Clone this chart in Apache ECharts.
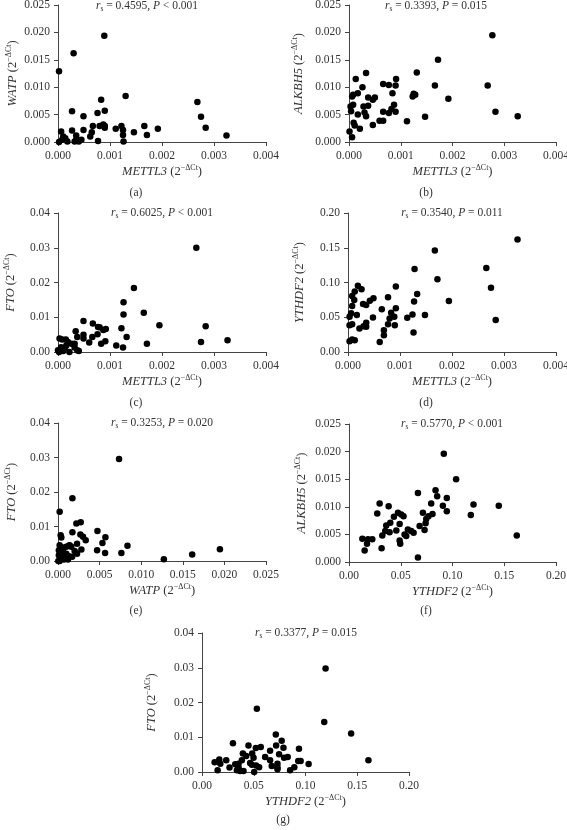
<!DOCTYPE html>
<html><head><meta charset="utf-8">
<script src="https://cdn.jsdelivr.net/npm/echarts@6/dist/echarts.min.js"></script>
<style>html,body{margin:0;padding:0;background:#fff}#c{width:567px;height:830px}</style>
</head><body><div id="c"></div>
<script>
// ---- data: [x, y] pairs ----
const a_METTL3_WATP = [[0.00002,0.0129],[0.0003,0.0162],[0.00089,0.0194],[0.00027,0.0056],[0.00049,0.0047],[0.00027,0.0021],[0.00006,0.0019],[0.0001,0.001],[0.00014,0.0007],[0.00018,0.0001],[0.00002,0],[0.00035,0.0012],[0.00035,0.0004],[0.0004,0.0001],[0.00045,0.0004],[0.00049,0.0022],[0.00062,0.001],[0.00065,0.0018],[0.00067,0.0029],[0.00076,0.0053],[0.00077,0.0002],[0.0008,0.0029],[0.00083,0.0077],[0.00087,0.0032],[0.0009,0.0029],[0.0009,0.0057],[0.0009,0.0026],[0.00111,0.0024],[0.00122,0.0029],[0.00125,0.0022],[0.00125,0.0013],[0.00126,0.0001],[0.0013,0.0084],[0.00146,0.0018],[0.00166,0.0029],[0.00171,0.0013],[0.00192,0.0024],[0.00268,0.0073],[0.00275,0.0046],[0.00284,0.0026],[0.00324,0.0012],[0.00032,0.0001],[0.00008,0.0004]];
const b_METTL3_ALKBH5 = [[0.00001,0.0019],[0.00006,0.00085],[0.00003,0.0065],[0.00006,0.0083],[0.00008,0.0086],[0.00004,0.0056],[0.00008,0.0068],[0.00013,0.0115],[0.00009,0.0035],[0.00011,0.003],[0.00017,0.0089],[0.00017,0.005],[0.00021,0.0024],[0.00026,0.01],[0.00028,0.0065],[0.0003,0.0054],[0.00033,0.0126],[0.00033,0.0047],[0.00037,0.0081],[0.00037,0.0066],[0.00046,0.0077],[0.0005,0.0081],[0.00046,0.0031],[0.00059,0.0039],[0.00066,0.0106],[0.00066,0.0055],[0.00066,0.0039],[0.00077,0.0104],[0.00077,0.0053],[0.00082,0.006],[0.00084,0.0089],[0.00087,0.0068],[0.0009,0.0103],[0.00091,0.0115],[0.0009,0.0055],[0.00112,0.0038],[0.00123,0.0083],[0.00125,0.0088],[0.00128,0.0086],[0.00131,0.0127],[0.00147,0.0046],[0.00166,0.0103],[0.00172,0.015],[0.00192,0.0079],[0.00268,0.0103],[0.00277,0.0195],[0.00283,0.0055],[0.00326,0.0047]];
const c_METTL3_FTO = [[0.00266,0.030],[0.00146,0.0184],[0.00126,0.0143],[0.00126,0.0108],[0.00165,0.0113],[0.00195,0.0077],[0.00284,0.0074],[0.00326,0.0034],[0.00275,0.0029],[0.00171,0.0024],[0.00122,0.0068],[0.00132,0.0043],[0.00112,0.0019],[0.00125,0.0013],[0.00049,0.0089],[0.00067,0.0082],[0.00077,0.0072],[0.0008,0.0071],[0.00087,0.0063],[0.00092,0.0066],[0.00034,0.006],[0.00037,0.0043],[0.00049,0.005],[0.00049,0.0039],[0.0006,0.0027],[0.00066,0.0043],[0.00076,0.0051],[0.00083,0.0024],[0.00091,0.0031],[0.00003,0.0039],[0.00008,0.0036],[0.00015,0.0036],[0.00019,0.0029],[0.00026,0.0024],[0.00016,0.0019],[0.00006,0.0014],[0.00013,0.001],[0,0.0005],[0.00032,0.0013],[0.00037,0.0005],[0.0004,0.0003],[0.00002,0],[0.00022,0],[0.0001,0.0003],[0.00032,0.0024]];
const d_METTL3_YTHDF2 = [[0.00326,0.1618],[0.00167,0.1459],[0.00266,0.1208],[0.00128,0.1193],[0.00172,0.1048],[0.00275,0.0923],[0.00284,0.0459],[0.00194,0.0734],[0.00133,0.0836],[0.00127,0.0725],[0.00092,0.0942],[0.00077,0.0787],[0.00092,0.0628],[0.00083,0.0565],[0.00089,0.0507],[0.0008,0.0483],[0.0009,0.0386],[0.00077,0.0401],[0.00065,0.0614],[0.00069,0.0314],[0.00069,0.0242],[0.00061,0.0145],[0.00114,0.0493],[0.00124,0.0541],[0.00148,0.0531],[0.00126,0.028],[0.00048,0.0498],[0.00049,0.0773],[0.00042,0.0739],[0.00035,0.0676],[0.00029,0.0691],[0.00026,0.0903],[0.00019,0.0952],[0.00035,0.042],[0.00035,0.0362],[0.0003,0.0372],[0.00022,0.0338],[0.00017,0.0531],[0.00013,0.087],[0.00012,0.0749],[0.00008,0.0807],[0.00008,0.0662],[0.00006,0.0556],[0.00003,0.0507],[0.00003,0.0386],[0.00008,0.0401],[0.00003,0.0155],[0.00008,0.0179],[0.00013,0.0169]];
const e_WATP_FTO = [[0.00734,0.0296],[0.00173,0.0182],[0.0002,0.0143],[0.00273,0.0112],[0.00221,0.0109],[0.00173,0.0083],[0.00474,0.0087],[0.00534,0.0052],[0.0057,0.0069],[0.00269,0.0077],[0.00301,0.007],[0.00333,0.006],[0.00229,0.005],[0.00032,0.0075],[0.0004,0.0068],[0.00128,0.0044],[0.0016,0.0041],[0.002,0.0029],[0.00229,0.0021],[0.00281,0.0033],[0.0047,0.0031],[0.00566,0.0023],[0.00835,0.0044],[0.00762,0.0023],[0.01272,0.0005],[0.01613,0.0019],[0.01946,0.0034],[0.0002,0.0046],[0.0006,0.0039],[0.001,0.0041],[0.0014,0.0046],[0.0001,0.0031],[0.0006,0.0026],[0.001,0.0021],[0.0001,0.0017],[0.0005,0.0014],[0.0009,0.0012],[0.0013,0.0014],[0.0003,0.0007],[0.0007,0.0004],[0.00004,0],[0.0012,0.0004],[0.0017,0.0012],[0.0002,0]];
const f_YTHDF2_ALKBH5 = [[0.0916,0.0196],[0.1035,0.015],[0.0836,0.013],[0.0852,0.0119],[0.0945,0.0116],[0.0666,0.0125],[0.0907,0.0102],[0.0945,0.0092],[0.1203,0.0104],[0.1177,0.0085],[0.1447,0.0102],[0.1621,0.0048],[0.0794,0.0106],[0.0807,0.0087],[0.0714,0.0089],[0.0768,0.0083],[0.0746,0.0078],[0.074,0.007],[0.073,0.0058],[0.0682,0.0065],[0.0666,0.0008],[0.0296,0.0106],[0.0273,0.0088],[0.0383,0.0101],[0.0473,0.0089],[0.0505,0.0086],[0.0527,0.0083],[0.0434,0.0082],[0.0489,0.0069],[0.0399,0.0071],[0.036,0.0066],[0.0457,0.0057],[0.0392,0.0054],[0.035,0.0056],[0.0322,0.0048],[0.0489,0.0039],[0.0495,0.0033],[0.0537,0.005],[0.0569,0.0059],[0.0601,0.0056],[0.0624,0.0053],[0.0553,0.0047],[0.0129,0.0042],[0.0183,0.0041],[0.0225,0.0041],[0.0174,0.0033],[0.0151,0.0021],[0.0315,0.0025]];
const g_YTHDF2_FTO = [[0.1194,0.0298],[0.1181,0.0144],[0.1441,0.0111],[0.1608,0.0034],[0.053,0.0182],[0.0713,0.0108],[0.077,0.009],[0.0787,0.007],[0.0716,0.0076],[0.0937,0.0067],[0.0745,0.0051],[0.0793,0.0041],[0.0828,0.0043],[0.093,0.0032],[0.0953,0.0032],[0.103,0.0023],[0.0892,0.0014],[0.0851,0.0005],[0.0729,0.0024],[0.0729,0.0014],[0.0729,0.0008],[0.0674,0.0017],[0.0658,0.0034],[0.061,0.0043],[0.0658,0.0061],[0.0568,0.0072],[0.052,0.0069],[0.0485,0.0053],[0.0498,0.0041],[0.0523,0.0019],[0.0552,0.0014],[0.0482,0.0021],[0.0465,0.0026],[0.0504,0],[0.0449,0.0076],[0.0427,0.0046],[0.0395,0.0053],[0.0385,0.0034],[0.0353,0.0024],[0.0353,0.0014],[0.0337,0.0005],[0.0369,0.0003],[0.0401,0.0003],[0.0299,0.0083],[0.0266,0.0013],[0.0234,0.0034],[0.0177,0.0024],[0.0167,0.0036],[0.0122,0.0028],[0.0151,0.0005],[0.0321,0.0022]];

const panelLetters = ['(a)','(b)','(c)','(d)','(e)','(f)','(g)'];
const statsR = ['0.4595','0.3393','0.6025','0.3540','0.3253','0.5770','0.3377'];
const statsP = ['< 0.001','= 0.015','< 0.001','= 0.011','= 0.020','< 0.001','= 0.015'];
const xGenes = ['METTL3','METTL3','METTL3','METTL3','WATP','YTHDF2','YTHDF2'];
const yGenes = ['WATP','ALKBH5','FTO','YTHDF2','FTO','ALKBH5','FTO'];
// axis scales [min, max, interval, decimals]
const xScales = [[0,0.004,0.001,3],[0,0.004,0.001,3],[0,0.004,0.001,3],[0,0.004,0.001,3],[0,0.025,0.005,3],[0,0.20,0.05,2],[0,0.20,0.05,2]];
const yScales = [[0,0.025,0.005,3],[0,0.025,0.005,3],[0,0.04,0.01,2],[0,0.20,0.05,2],[0,0.04,0.01,2],[0,0.025,0.005,3],[0,0.04,0.01,2]];
const datasets = [a_METTL3_WATP,b_METTL3_ALKBH5,c_METTL3_FTO,d_METTL3_YTHDF2,e_WATP_FTO,f_YTHDF2_ALKBH5,g_YTHDF2_FTO];

// ---- layout ----
const grids = [
  {left:58, top:5,  width:208, height:137},
  {left:349,top:5,  width:207, height:137},
  {left:58, top:213,width:208, height:139},
  {left:348,top:213,width:208, height:139},
  {left:58, top:423,width:208, height:138},
  {left:349,top:424,width:207, height:138},
  {left:202,top:633,width:207, height:139}
];
const titlePos = [[147,6],[436,6],[162,213],[452,213],[162,423],[452,424],[306,633]];
const letterPos = [[136,193],[426,193],[136,403],[426,403],[136,611],[426,611],[283,820]];
const yNameGap = [38,43,40,41,39,40,43];

const SERIF = '"Liberation Serif","DejaVu Serif",serif';
const TXT = '#333';
const AX = '#444';

function nameRich(){
  return {
    i:{fontFamily:SERIF,fontStyle:'italic',fontWeight:'normal',fontSize:12.5,color:TXT,lineHeight:15},
    n:{fontFamily:SERIF,fontWeight:'normal',fontSize:12.5,color:TXT,lineHeight:15},
    s:{fontFamily:SERIF,fontWeight:'normal',fontSize:8,color:TXT,verticalAlign:'top',lineHeight:15}
  };
}
function axisName(g){ return '{i|'+g+'}{n| (2}{s|\u2212\u0394Ct}{n|)}'; }

const option = {animation:false, backgroundColor:'#fff', grid:[], xAxis:[], yAxis:[], series:[], title:[]};
for (let k=0;k<7;k++){
  option.grid.push(Object.assign({outerBoundsMode:'none', containLabel:false}, grids[k]));
  const xs = xScales[k], ys = yScales[k];
  const common = {
    axisLine:{show:true,onZero:false,lineStyle:{color:AX,width:1}},
    axisTick:{show:true,inside:false,length:4,lineStyle:{color:AX}},
    splitLine:{show:false},
    nameLocation:'middle', nameMoveOverlap:false
  };
  option.xAxis.push(Object.assign({}, common, {
    type:'value', gridIndex:k, min:xs[0], max:xs[1], interval:xs[2],
    axisLabel:{fontFamily:SERIF,fontSize:11.5,color:TXT,margin:8,formatter:(v)=>v.toFixed(xs[3])},
    name:axisName(xGenes[k]), nameGap:22, nameTextStyle:{rich:nameRich()}
  }));
  option.yAxis.push(Object.assign({}, common, {
    type:'value', gridIndex:k, min:ys[0], max:ys[1], interval:ys[2],
    axisLabel:{fontFamily:SERIF,fontSize:11.5,color:TXT,margin:8,formatter:(v)=>v.toFixed(ys[3])},
    name:axisName(yGenes[k]), nameGap:yNameGap[k], nameTextStyle:{rich:nameRich()}
  }));
  option.series.push({
    type:'scatter', xAxisIndex:k, yAxisIndex:k, data:datasets[k],
    symbol:'circle', symbolSize:6.5, itemStyle:{color:'#000',opacity:1}, silent:true
  });
  option.title.push({
    text:'{i|r}{sub|s}{n| = '+statsR[k]+', }{i|P}{n| '+statsP[k]+'}',
    left:titlePos[k][0], top:titlePos[k][1], textAlign:'center', textVerticalAlign:'middle', padding:0,
    textStyle:{fontWeight:'normal',rich:{
      i:{fontFamily:SERIF,fontStyle:'italic',fontWeight:'normal',fontSize:11.5,color:TXT,lineHeight:14},
      n:{fontFamily:SERIF,fontWeight:'normal',fontSize:11.5,color:TXT,lineHeight:14},
      sub:{fontFamily:SERIF,fontWeight:'normal',fontSize:7.5,color:TXT,verticalAlign:'bottom',lineHeight:14}
    }}
  });
  option.title.push({
    text:panelLetters[k], left:letterPos[k][0], top:letterPos[k][1], textAlign:'center', textVerticalAlign:'middle', padding:0,
    textStyle:{fontFamily:SERIF,fontSize:11.5,fontWeight:'normal',color:TXT}
  });
}
const chart = echarts.init(document.getElementById('c'), null, {renderer:'canvas'});
chart.setOption(option);
</script></body></html>
